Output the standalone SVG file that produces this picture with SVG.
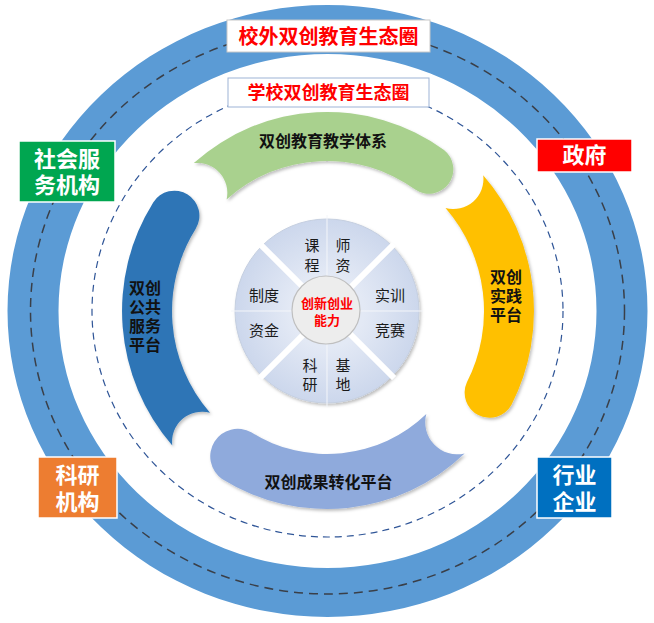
<svg xmlns="http://www.w3.org/2000/svg" width="654" height="623" viewBox="0 0 654 623">
<defs>
<style>
text{font-family:'Liberation Sans','Noto Sans CJK SC',sans-serif;font-weight:700;text-anchor:middle;dominant-baseline:central}
.dark{fill:#111111;font-size:16px}
.wl{fill:#1a1a1a;font-size:15px;font-weight:400}
.lbl{fill:#ffffff;font-size:22px}
.band{filter:url(#sh)}
</style>
<filter id="sh" x="-10%" y="-10%" width="120%" height="120%">
<feDropShadow dx="1.5" dy="2" stdDeviation="1.8" flood-color="#000" flood-opacity="0.25"/>
</filter>
<radialGradient id="wg" cx="50%" cy="50%" r="50%">
<stop offset="0.4" stop-color="#E3E9F5"/>
<stop offset="1" stop-color="#CCD7EC"/>
</radialGradient>
</defs>
<rect width="654" height="623" fill="#ffffff"/>

<g id="outer-ring">
<path d="M7.5,311 A320,306 0 1 0 647.5,311 A320,306 0 1 0 7.5,311 Z M58.5,311 A269,257 0 1 1 596.5,311 A269,257 0 1 1 58.5,311 Z" fill="#5B9BD5" fill-rule="evenodd"/>
<ellipse cx="327.5" cy="311" rx="297" ry="283" fill="none" stroke="#3A3F48" stroke-width="1.5" stroke-dasharray="9 6"/>
</g>
<g id="inner-ring">
<ellipse cx="327.5" cy="311" rx="235.5" ry="226" fill="none" stroke="#2F5597" stroke-width="1.2" stroke-dasharray="7 5"/>
</g>

<g id="label-outer">
<rect x="227" y="20" width="203" height="32" fill="#ffffff" stroke="#C8C8C8" stroke-width="1"/>
<text x="328.5" y="36.5" style="fill:#FF0000;font-size:20px">校外双创教育生态圈</text>
</g>
<g id="label-school">
<rect x="228" y="78" width="201" height="29" fill="#ffffff" stroke="#9DB3D6" stroke-width="1"/>
<text x="328.5" y="92.5" style="fill:#FF0000;font-size:18px">学校双创教育生态圈</text>
</g>

<g id="node-social">
<rect x="19" y="141" width="96" height="61" fill="#00A650" stroke="#ffffff" stroke-width="1.5"/>
<text class="lbl" x="67" y="159">社会服</text>
<text class="lbl" x="67" y="185">务机构</text>
</g>
<g id="node-gov">
<rect x="537" y="139" width="95" height="33" fill="#FF0000" stroke="#ffffff" stroke-width="1.5"/>
<text class="lbl" x="584.5" y="155.5">政府</text>
</g>
<g id="node-research">
<rect x="38" y="457" width="79" height="61" fill="#ED7D31" stroke="#ffffff" stroke-width="1.5"/>
<text class="lbl" x="77.5" y="475">科研</text>
<text class="lbl" x="77.5" y="502">机构</text>
</g>
<g id="node-industry">
<rect x="537" y="457" width="75" height="61" fill="#0070C0" stroke="#ffffff" stroke-width="1.5"/>
<text class="lbl" x="574.5" y="475">行业</text>
<text class="lbl" x="574.5" y="502">企业</text>
</g>

<g id="band-teaching">
<path class="band" d="M193.8,163.1 A199,199 0 0 1 444.0,150.0 A24.5,24.5 0 0 1 415.2,189.6 A150,150 0 0 0 226.6,199.5 A30,30 0 0 0 193.8,163.1 Z" fill="#A9D18E"/>
<text class="dark" x="323" y="141">双创教育教学体系</text>
</g>
<g id="band-public">
<path class="band" d="M172.3,445.5 A205,205 0 0 1 153.2,202.4 A25,25 0 0 1 195.6,228.9 A155,155 0 0 0 210.0,412.7 A30,30 0 0 0 172.3,445.5 Z" fill="#2E75B6"/>
<text class="dark" x="145" y="288">双创</text>
<text class="dark" x="145" y="307">公共</text>
<text class="dark" x="145" y="326">服务</text>
<text class="dark" x="145" y="345">平台</text>
</g>
<g id="band-practice">
<path class="band" d="M483.2,175.2 A207,207 0 0 1 511.4,405.0 A25,25 0 0 1 466.9,382.3 A157,157 0 0 0 445.5,208.0 A30,30 0 0 0 483.2,175.2 Z" fill="#FFC000"/>
<text class="dark" x="506" y="277">双创</text>
<text class="dark" x="506" y="296">实践</text>
<text class="dark" x="506" y="315">平台</text>
</g>
<g id="band-transfer">
<path class="band" d="M464.6,453.4 A198,198 0 0 1 222.1,478.9 A27.5,27.5 0 0 1 251.2,432.3 A143,143 0 0 0 426.3,413.9 A32,32 0 0 0 464.6,453.4 Z" fill="#8FAADC"/>
<text class="dark" x="328.5" y="482">双创成果转化平台</text>
</g>

<g id="wheel">
<circle cx="327" cy="311" r="92" fill="url(#wg)" stroke="#C5CFE0" stroke-width="1" filter="url(#sh)"/>
<line x1="327" y1="215" x2="327" y2="407" stroke="#F4F6FA" stroke-width="1"/>
<line x1="231" y1="311" x2="423" y2="311" stroke="#F4F6FA" stroke-width="1"/>
<line x1="259.8" y1="243.8" x2="394.2" y2="378.2" stroke="#ffffff" stroke-width="6"/>
<line x1="394.2" y1="243.8" x2="259.8" y2="378.2" stroke="#ffffff" stroke-width="6"/>
<circle cx="326" cy="310" r="34" fill="#EDEDED" stroke="#BFBFBF" stroke-width="1.2"/>
<text class="wl" x="312" y="245">课</text>
<text class="wl" x="312" y="265">程</text>
<text class="wl" x="343" y="245">师</text>
<text class="wl" x="343" y="265">资</text>
<text class="wl" x="264" y="295">制度</text>
<text class="wl" x="264" y="330">资金</text>
<text class="wl" x="390" y="295">实训</text>
<text class="wl" x="390" y="330">竞赛</text>
<text class="wl" x="310" y="365">科</text>
<text class="wl" x="310" y="384">研</text>
<text class="wl" x="343" y="365">基</text>
<text class="wl" x="343" y="384">地</text>
<text x="327" y="303" style="fill:#FF0000;font-size:13px">创新创业</text>
<text x="327" y="320" style="fill:#FF0000;font-size:13px">能力</text>
</g>
<g id="connectors"/>
</svg>
